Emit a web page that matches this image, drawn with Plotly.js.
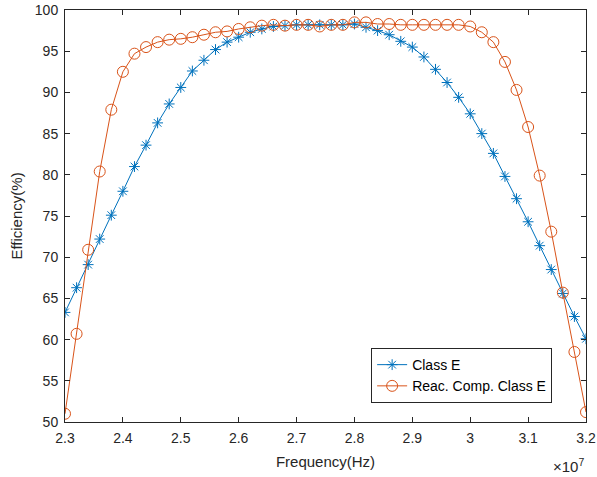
<!DOCTYPE html>
<html>
<head>
<meta charset="utf-8">
<script src="https://cdn.plot.ly/plotly-3.0.1.min.js"></script>
<style>html,body{margin:0;padding:0;background:#fff;}#chart{width:597px;height:477px;}</style>
</head>
<body>
<div id="chart"></div>
<script>
// Frequency in units of 1e7 Hz
const freq = [2.30,2.32,2.34,2.36,2.38,2.40,2.42,2.44,2.46,2.48,
              2.50,2.52,2.54,2.56,2.58,2.60,2.62,2.64,2.66,2.68,
              2.70,2.72,2.74,2.76,2.78,2.80,2.82,2.84,2.86,2.88,
              2.90,2.92,2.94,2.96,2.98,3.00,3.02,3.04,3.06,3.08,
              3.10,3.12,3.14,3.16,3.18,3.20];
const classE = [63.3,66.3,69.1,72.2,75.1,78.0,81.0,83.6,86.3,88.6,
                90.6,92.6,93.9,95.2,96.1,96.7,97.3,97.7,98.0,98.1,
                98.2,98.2,98.2,98.2,98.2,98.3,97.9,97.5,97.0,96.2,
                95.5,94.3,92.8,91.2,89.4,87.4,85.0,82.6,79.8,77.1,
                74.3,71.4,68.5,65.6,62.8,60.1];
const reacComp = [51.0,60.7,70.9,80.4,87.9,92.5,94.7,95.5,96.1,96.4,
                  96.5,96.7,97.0,97.3,97.4,97.7,97.9,98.1,98.2,98.1,
                  98.2,98.2,98.0,98.2,98.2,98.5,98.5,98.3,98.3,98.2,
                  98.2,98.2,98.2,98.2,98.2,98.0,97.3,96.1,93.7,90.3,
                  85.8,79.9,73.1,65.7,58.5,51.2];
const xTickVals = [2.3,2.4,2.5,2.6,2.7,2.8,2.9,3.0,3.1,3.2];
const xTickText = ["2.3","2.4","2.5","2.6","2.7","2.8","2.9","3","3.1","3.2"];
const yTickVals = [50,55,60,65,70,75,80,85,90,95,100];
const seriesNames = ["Class E","Reac. Comp. Class E"];

const blue = "#0072BD", orange = "#D95319";
const axisCol = "#262626";
const fontFam = "Liberation Sans, Arial, Helvetica, sans-serif";

const traces = [
  {x: freq, y: classE, name: seriesNames[0], type: "scatter", mode: "lines+markers",
   line: {color: blue, width: 1},
   marker: {symbol: "asterisk-open", size: 9, color: blue, line: {color: blue, width: 1}}},
  {x: freq, y: reacComp, name: seriesNames[1], type: "scatter", mode: "lines+markers",
   line: {color: orange, width: 1},
   marker: {symbol: "circle-open", size: 11, color: orange, line: {color: orange, width: 1}}}
];

const axisCommon = {
  showgrid: false, zeroline: false, showline: true, mirror: "ticks",
  linecolor: axisCol, linewidth: 1, ticks: "inside", ticklen: 5, tickcolor: axisCol,
  ticklabelstandoff: 3,
  tickfont: {family: fontFam, size: 14, color: axisCol}
};

const layout = {
  width: 597, height: 477,
  margin: {l: 65, r: 11, t: 10, b: 55},
  paper_bgcolor: "#fff", plot_bgcolor: "#fff",
  showlegend: true,
  xaxis: Object.assign({}, axisCommon, {
    range: [2.3, 3.2], tickmode: "array", tickvals: xTickVals, ticktext: xTickText,
    title: {text: "Frequency(Hz)", font: {family: fontFam, size: 15, color: axisCol}, standoff: 11}
  }),
  yaxis: Object.assign({}, axisCommon, {
    range: [50, 100], tickmode: "array", tickvals: yTickVals,
    title: {text: "Efficiency(%)", font: {family: fontFam, size: 15, color: axisCol}, standoff: 8}
  }),
  legend: {
    x: 0.935, y: 0.046, xanchor: "right", yanchor: "bottom",
    bgcolor: "#fff", bordercolor: axisCol, borderwidth: 1,
    font: {family: fontFam, size: 14, color: "#000"},
    tracegroupgap: 0, itemwidth: 30
  },
  annotations: [{
    xref: "paper", yref: "paper", x: 1.0, y: 0, yshift: -32, xanchor: "right", yanchor: "top",
    text: "×10<sup>7</sup>", showarrow: false,
    font: {family: fontFam, size: 15, color: axisCol}
  }]
};

Plotly.newPlot("chart", traces, layout, {displayModeBar: false, staticPlot: true});
</script>
</body>
</html>
